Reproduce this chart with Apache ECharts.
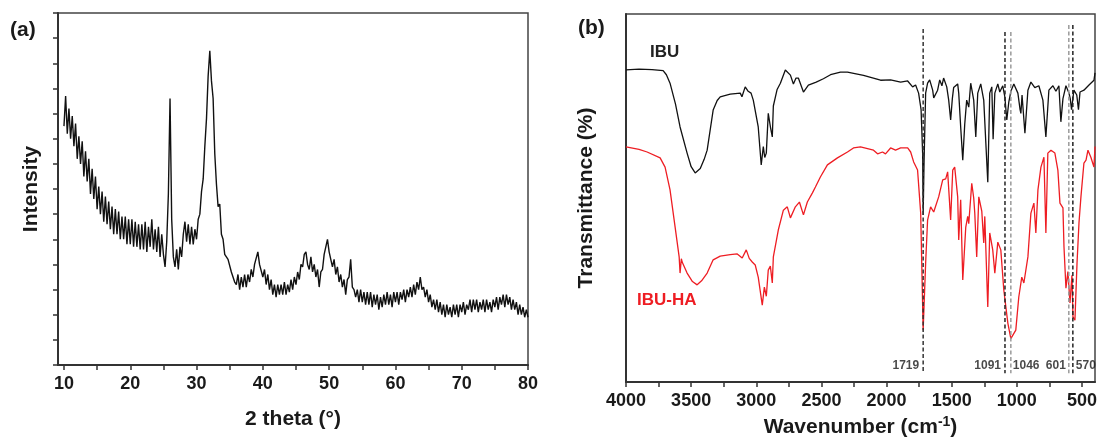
<!DOCTYPE html>
<html>
<head>
<meta charset="utf-8">
<script src="https://cdn.jsdelivr.net/npm/echarts@6/dist/echarts.min.js"></script>
<style>
html,body{margin:0;padding:0;background:#fff;}
#c{width:1097px;height:440px;}
</style>
</head>
<body>
<div id="c"></div>
<script>
// ---------- Panel (a): XRD ----------
const xrdStart = 10;      // 2θ of first sample
const xrdStep = 0.25;     // sample spacing (°)
const xrdIntensity = [
  9.5,10.7,9.2,10.2, 9.0,9.9,8.7,9.6, 8.2,9.1,8.0,8.9, 7.5,8.5,7.3,8.2,
  6.8,7.8,6.6,7.5, 6.2,7.1,6.0,6.9, 5.7,6.7,5.6,6.5, 5.4,6.3,5.2,6.2,
  5.2,6.1,5.0,5.9, 5.0,5.9,4.8,5.8, 4.8,5.8,4.7,5.7, 4.7,5.6,4.6,5.6,
  4.6,5.7,4.5,5.5, 4.7,5.8,4.6,5.4, 4.5,5.5,4.3,5.2, 4.4,3.9,4.9,6.8,
  10.6,5.8,4.3,3.9, 4.6,3.8,4.7,4.3, 5.2,5.7,4.9,5.6, 4.8,5.5,4.8,5.4,
  5.0,5.8,6.0,6.9, 7.4,8.7,9.8,11.5, 12.5,11.3,10.6,8.4, 7.2,6.3,6.4,5.2,
  5.0,4.4,4.3,4.2, 4.2,3.7,3.7,3.3, 3.2,3.6,3.0,3.5, 3.1,3.6,3.1,3.6,
  3.3,3.8,3.5,4.0, 4.0,4.5,4.0,4.0, 3.5,3.8,3.2,3.6, 3.0,3.4,2.8,3.2,
  2.7,3.2,2.8,3.2, 2.8,3.3,2.8,3.2, 2.9,3.4,3.0,3.5, 3.2,3.7,3.4,4.0,
  3.9,4.4,4.5,4.0, 3.8,4.3,3.7,4.0, 3.5,3.8,3.1,3.7, 3.8,4.4,4.4,5.0,
  4.5,4.5,3.9,4.2, 3.6,3.9,3.3,3.6, 3.1,3.4,2.8,3.4, 3.5,4.2,3.1,3.0,
  2.7,3.0,2.5,3.0, 2.5,2.9,2.4,2.9, 2.4,2.9,2.3,2.8, 2.4,2.8,2.2,2.7,
  2.3,2.8,2.4,2.9, 2.4,2.8,2.3,2.9, 2.5,2.9,2.4,2.9, 2.6,3.0,2.5,3.0,
  2.7,3.1,2.7,3.2, 2.8,3.3,3.0,3.5, 3.0,3.1,2.7,3.0, 2.5,2.8,2.3,2.6,
  2.2,2.6,2.1,2.5, 2.0,2.4,1.9,2.4, 2.0,2.3,1.9,2.4, 2.0,2.4,1.9,2.4,
  2.1,2.5,2.0,2.4, 2.2,2.6,2.1,2.6, 2.2,2.6,2.1,2.5, 2.2,2.6,2.1,2.6,
  2.2,2.5,2.1,2.6, 2.3,2.7,2.2,2.7, 2.4,2.8,2.3,2.8, 2.4,2.7,2.2,2.6,
  2.2,2.5,2.0,2.4, 2.0,2.3,1.9,2.2, 1.9
];
const xrdTickLabels = [10,20,30,40,50,60,70,80];
const xrdTicks = [10,15,20,25,30,35,40,45,50,55,60,65,70,75,80];

// ---------- Panel (b): FTIR ----------
const ibu = [
 [4000,84.8],[3900,85.0],[3800,84.9],[3715,84.6],[3690,83.5],[3662,81.2],[3620,75.5],[3585,69.3],
 [3531,62.2],[3500,58.5],[3469,56.8],[3430,58.0],[3400,60.5],[3377,63],[3331,73.9],[3300,76.5],
 [3277,77.5],[3200,78.2],[3123,78.5],[3110,77.5],[3085,80.2],[3062,79],[3040,78.5],[3023,76.6],
 [2985,69.3],[2962,59],[2946,64],[2935,61],[2923,62.2],[2908,73],[2890,69],[2877,66.6],[2869,75],
 [2840,79.5],[2815,81.2],[2777,84.8],[2738,83.4],[2715,81],[2695,82.6],[2677,82.6],[2638,78.8],
 [2600,80.7],[2540,81.5],[2485,82.4],[2430,83.5],[2354,84.2],[2300,84.2],[2177,83.3],[2046,82],
 [1969,82.1],[1892,81.5],[1838,81.8],[1800,80.2],[1777,80.7],[1754,78.5],[1735,74],[1723,62],
 [1719,45.4],[1712,60],[1700,78.5],[1685,81.2],[1669,82.1],[1646,79.3],[1638,77.2],[1608,79.3],
 [1592,82.1],[1575,80.5],[1562,82.6],[1538,80.2],[1523,76.6],[1508,71.2],[1495,77],[1485,80],
 [1454,81],[1446,78.5],[1431,69.3],[1415,60.3],[1400,70],[1385,76.6],[1369,74.7],[1354,81.2],
 [1331,76.6],[1315,66.6],[1300,78.5],[1277,81],[1254,76.6],[1238,65],[1223,54.3],[1208,78.5],
 [1192,80.2],[1182,66],[1169,78.5],[1146,81],[1131,78.8],[1108,80.5],[1092,77.5],[1077,71.2],
 [1062,76],[1046,79],[1023,81],[992,78.5],[975,74],[969,73],[960,78],[938,67.6],[915,79.3],
 [892,81.5],[862,80],[831,80.5],[800,76.6],[777,66.6],[754,79.3],[723,80.5],[700,79],[677,80.5],
 [662,70.7],[646,77],[623,80.5],[600,78.5],[590,77],[580,74],[562,79.3],[540,78],[527,74],
 [515,78.8],[485,79.3],[446,80.7],[408,82],[400,84]
];
const ibuHA = [
 [4000,63.9],[3900,63.2],[3838,62.5],[3738,60.9],[3700,58.4],[3662,52.2],[3623,42.1],[3592,34],
 [3585,29.6],[3575,33.5],[3569,32.6],[3531,29.6],[3490,27.3],[3454,26.4],[3420,27.5],[3377,29.6],
 [3331,33.2],[3277,34.2],[3200,34.6],[3146,34.8],[3108,33.7],[3077,35.9],[3054,33.6],[3031,32.6],
 [3008,31.8],[2985,28.5],[2954,20.9],[2938,25.8],[2923,23.3],[2908,30.4],[2892,31.5],[2877,26.9],
 [2869,34],[2831,41.3],[2792,46.7],[2762,47.6],[2738,44.6],[2700,47.6],[2669,48.9],[2638,45.4],
 [2608,48.9],[2569,51.4],[2546,53],[2508,55.7],[2454,59],[2377,60.9],[2300,62.5],[2254,63.6],
 [2200,63.9],[2100,63],[2069,62],[2031,62.5],[2008,62],[1969,63.6],[1931,63],[1892,63.6],
 [1838,63.6],[1815,62.5],[1792,59.8],[1762,57.6],[1738,45.9],[1719,14.1],[1700,32.3],[1685,44],
 [1662,47.6],[1638,46.2],[1600,50.3],[1569,54.9],[1546,55.2],[1531,57.1],[1508,44],[1492,57.6],
 [1477,58.4],[1454,50.3],[1446,38.6],[1431,49.5],[1415,27.7],[1392,42.1],[1377,45],[1369,43],
 [1346,54],[1331,50],[1323,46],[1308,34],[1292,50.3],[1269,46.4],[1254,37.8],[1246,45],
 [1223,20.4],[1208,40.5],[1185,35.9],[1169,29.6],[1146,38],[1123,35.9],[1100,25],[1069,16],
 [1046,11.8],[1031,11.4],[1008,14.1],[985,23.1],[962,28.5],[946,26.9],[915,34],[892,45.9],
 [869,48.6],[854,40.5],[838,52.2],[815,58.4],[792,61.1],[777,40.5],[762,62.2],[738,63],
 [708,62.2],[685,57.6],[669,48.6],[646,47.3],[638,36.7],[623,25.5],[608,30],[592,21.5],
 [577,29],[569,17.7],[554,16.8],[538,32.3],[523,43.2],[508,50.3],[485,59.5],[469,60.3],
 [454,63],[431,61],[408,58.4],[400,64]
];
const peakWavenumbers = [1719, 1091, 1046, 601, 570];
const peakLineTop = [95.9, 95.1, 95.1, 97, 97];
const peakLineBottom = 2.4;
const peakLabelY = 4.3;
const ftirTickLabels = [4000,3500,3000,2500,2000,1500,1000,500];
const ftirTicks = [4000,3750,3500,3250,3000,2750,2500,2250,2000,1750,1500,1250,1000,750,500];

// ---------- styling ----------
const FONT = 'Liberation Sans, Arial, Helvetica, sans-serif';
const peakColors = ['#333', '#222', '#999', '#999', '#222'];
const peakLabelSide = ['left', 'left', 'right', 'left', 'right'];
const peakLabelDist = [4, 4, 2, 3, 3];

const chart = echarts.init(document.getElementById('c'), null, {renderer: 'canvas'});

const axisLineStyle = {color: '#333', width: 2};
const tickLabelStyle = {fontSize: 18, fontWeight: 'bold', color: '#1a1a1a', fontFamily: FONT, formatter: v => String(v)};
const nameStyle = {fontSize: 21, fontWeight: 'bold', color: '#1a1a1a', fontFamily: FONT};

const xrdData = xrdIntensity.map((v, i) => [xrdStart + i * xrdStep, v]);

const series = [
  {
    type: 'line', xAxisIndex: 0, yAxisIndex: 0, data: xrdData,
    showSymbol: false, symbol: 'none', silent: true,
    lineStyle: {color: '#111', width: 1.4}
  },
  {
    type: 'line', xAxisIndex: 1, yAxisIndex: 1, data: ibu,
    showSymbol: false, symbol: 'none', silent: true,
    lineStyle: {color: '#111', width: 1.3}
  },
  {
    type: 'line', xAxisIndex: 1, yAxisIndex: 1, data: ibuHA,
    showSymbol: false, symbol: 'none', silent: true,
    lineStyle: {color: '#ee1d23', width: 1.3}
  }
];

peakWavenumbers.forEach((wn, i) => {
  series.push({
    type: 'line', xAxisIndex: 1, yAxisIndex: 1,
    data: [[wn, peakLineTop[i]], [wn, peakLineBottom]],
    showSymbol: false, symbol: 'none', silent: true, z: 5,
    lineStyle: {color: peakColors[i], width: 1.5, type: [4, 2.5]}
  });
  series.push({
    type: 'scatter', xAxisIndex: 1, yAxisIndex: 1,
    data: [[wn, peakLabelY]], symbolSize: 0, silent: true, z: 6,
    label: {
      show: true, position: peakLabelSide[i], distance: peakLabelDist[i],
      formatter: String(wn), fontSize: 12, fontWeight: 'bold',
      color: '#1a1a1a', fontFamily: FONT
    }
  });
});

const option = {
  backgroundColor: '#fff',
  animation: false,
  grid: [
    {left: 58, top: 13, right: 569, bottom: 75, show: true, borderColor: '#444', borderWidth: 1.5, containLabel: false, outerBoundsMode: 'none'},
    {left: 626, top: 14, right: 2, bottom: 58, show: true, borderColor: '#444', borderWidth: 1.5, containLabel: false, outerBoundsMode: 'none'}
  ],
  xAxis: [
    {
      gridIndex: 0, type: 'value', min: 9.1, max: 80,
      axisLine: {show: true, onZero: false, lineStyle: axisLineStyle},
      axisTick: {show: true, inside: false, length: 5, customValues: xrdTicks, lineStyle: {color: '#333', width: 1.5}},
      axisLabel: Object.assign({customValues: xrdTickLabels, margin: 10, hideOverlap: false}, tickLabelStyle),
      splitLine: {show: false},
      name: '2 theta (°)', nameLocation: 'middle', nameGap: 44, nameTextStyle: nameStyle
    },
    {
      gridIndex: 1, type: 'value', min: 400, max: 4000, inverse: true,
      axisLine: {show: true, onZero: false, lineStyle: axisLineStyle},
      axisTick: {show: true, inside: false, length: 5, customValues: ftirTicks, lineStyle: {color: '#333', width: 1.5}},
      axisLabel: Object.assign({customValues: ftirTickLabels, margin: 10, hideOverlap: false}, tickLabelStyle),
      splitLine: {show: false},
      name: 'Wavenumber (cm{sup|-1})', nameLocation: 'middle', nameGap: 33,
      nameTextStyle: Object.assign({}, nameStyle, {
        rich: {sup: {fontSize: 14, fontWeight: 'bold', color: '#1a1a1a', fontFamily: FONT, verticalAlign: 'top', padding: [0, 0, 10, 0]}}
      })
    }
  ],
  yAxis: [
    {
      gridIndex: 0, type: 'value', min: 0, max: 14, interval: 1,
      axisLine: {show: true, onZero: false, lineStyle: axisLineStyle},
      axisTick: {show: true, inside: false, length: 5, lineStyle: {color: '#333', width: 1.5}},
      axisLabel: {show: false},
      splitLine: {show: false},
      name: 'Intensity', nameLocation: 'middle', nameGap: 16, nameTextStyle: nameStyle
    },
    {
      gridIndex: 1, type: 'value', min: 0, max: 100,
      axisLine: {show: true, onZero: false, lineStyle: axisLineStyle},
      axisTick: {show: false},
      axisLabel: {show: false},
      splitLine: {show: false},
      name: 'Transmittance (%)', nameLocation: 'middle', nameGap: 29, nameTextStyle: nameStyle
    }
  ],
  graphic: [
    {type: 'text', left: 10, top: 20, style: {text: '(a)', font: 'bold 21px ' + FONT, fill: '#1a1a1a'}},
    {type: 'text', left: 578, top: 18, style: {text: '(b)', font: 'bold 21px ' + FONT, fill: '#1a1a1a'}},
    {type: 'text', left: 650, top: 44, style: {text: 'IBU', font: 'bold 17px ' + FONT, fill: '#222'}},
    {type: 'text', left: 637, top: 292, style: {text: 'IBU-HA', font: 'bold 17px ' + FONT, fill: '#ee1d23'}}
  ],
  series: series
};
chart.setOption(option);
</script>
</body>
</html>
